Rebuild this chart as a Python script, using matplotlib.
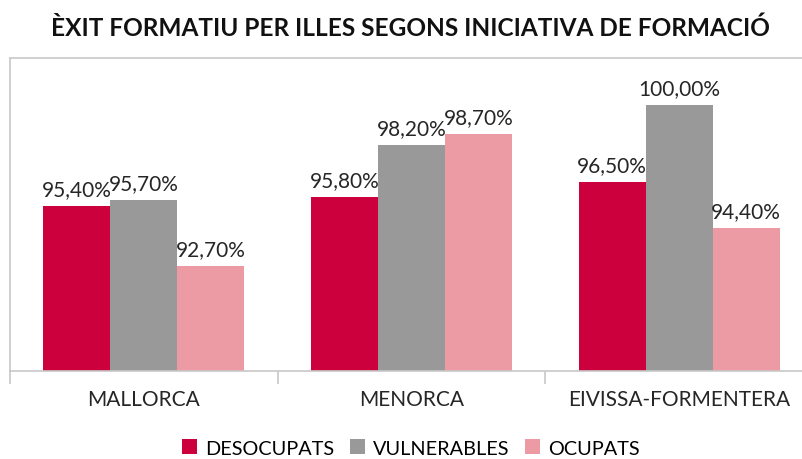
import matplotlib
matplotlib.use("Agg")
import matplotlib.pyplot as plt
import numpy as np
from matplotlib.patches import Patch

categories = ["MALLORCA", "MENORCA", "EIVISSA-FORMENTERA"]
series_names = ["DESOCUPATS", "VULNERABLES", "OCUPATS"]
desocupats = [95.4, 95.8, 96.5]
vulnerables = [95.7, 98.2, 100.0]
ocupats = [92.7, 98.7, 94.4]
title = "ÈXIT FORMATIU PER ILLES SEGONS INICIATIVA DE FORMACIÓ"

colors = ["#CC003D", "#999999", "#EC9AA3"]
font = "Lato"

fig = plt.figure(figsize=(8.03, 4.60), dpi=100)
W, H = 803, 460
ax = fig.add_axes([10 / W, 1 - 372 / H, 803 / W, (372 - 59) / H])

x = np.arange(len(categories))
bw = 0.25
series = [desocupats, vulnerables, ocupats]
for i, (vals, col) in enumerate(zip(series, colors)):
    pos = x + (i - 1) * bw
    bars = ax.bar(pos, vals, width=bw, color=col, zorder=2)
    for b, v in zip(bars, vals):
        lbl = f"{v:.2f}%".replace(".", ",")
        ax.annotate(lbl, (b.get_x() + b.get_width() / 2, v), xytext=(0, 5),
                    textcoords="offset points", ha="center", va="bottom",
                    fontsize=15, fontfamily=font, color="#262626")

ax.set_xlim(-0.5, 2.5)
ax.set_ylim(87.9, 102.15)
ax.set_yticks([])
ax.set_xticks([-0.5, 0.5, 1.5, 2.5], minor=False)
ax.set_xticklabels([])
ax.tick_params(axis="x", which="major", length=9, color="#C8C8C8", width=1.2)
ax.set_xticks(x, minor=True)
ax.set_xticklabels(categories, minor=True, fontsize=15, fontfamily=font, color="#262626")
ax.tick_params(axis="x", which="minor", length=0, pad=13)

for s in ["left", "top", "bottom"]:
    ax.spines[s].set_color("#C8C8C8")
    ax.spines[s].set_linewidth(1.2)
ax.spines["right"].set_visible(False)

fig.text(410 / W, 1 - 28 / H, title, ha="center", va="center", fontsize=17.6,
         fontweight="bold", fontfamily=font, color="#111111")

handles = [Patch(facecolor=c, edgecolor="none") for c in colors]
fig.legend(handles, series_names, loc="center", bbox_to_anchor=(411 / W, 1 - 449 / H),
           ncol=3, frameon=False, prop={"family": font, "size": 14.3},
           handlelength=0.75, handleheight=0.75, handletextpad=0.4, columnspacing=0.8)

fig.savefig("out.png", dpi=100)
